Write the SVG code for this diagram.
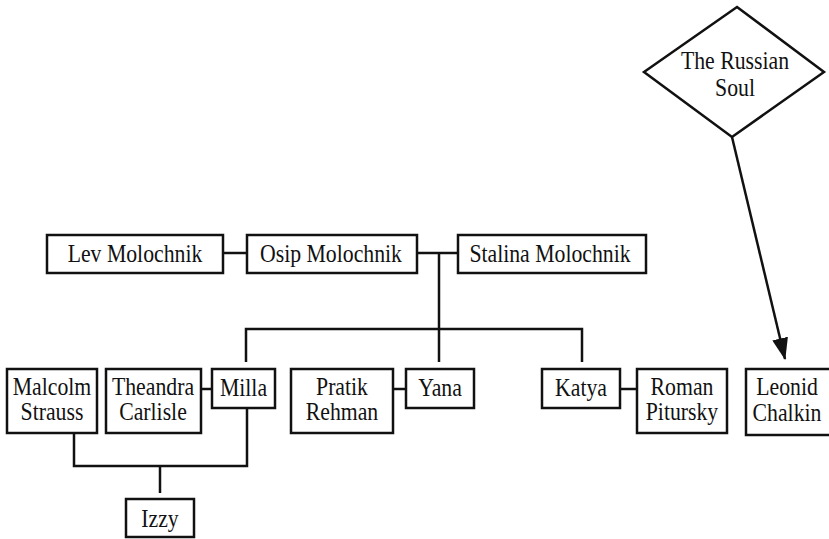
<svg xmlns="http://www.w3.org/2000/svg" width="829" height="539" viewBox="0 0 829 539">
<defs>
<style>
.box{fill:#fff;stroke:#111;stroke-width:2.5}
.ln{fill:none;stroke:#111;stroke-width:2.5}
text{font-family:"Liberation Serif","Times New Roman",serif;font-size:25px;fill:#111;text-anchor:middle}
</style>
<marker id="ah" viewBox="0 0 22 16" refX="21" refY="8" markerWidth="22" markerHeight="16" markerUnits="userSpaceOnUse" orient="auto">
<path d="M0,0 L22,8 L0,16 z" fill="#111"/>
</marker>
</defs>
<rect width="829" height="539" fill="#fff"/>
<g id="connectors">
<line class="ln" x1="223" y1="253" x2="247" y2="253"/>
<line class="ln" x1="417" y1="253" x2="458" y2="253"/>
<line class="ln" x1="439" y1="253" x2="439" y2="362"/>
<polyline class="ln" points="246,362 246,329 582,329 582,362"/>
<line class="ln" x1="201" y1="389" x2="212" y2="389"/>
<line class="ln" x1="393" y1="389" x2="406" y2="389"/>
<line class="ln" x1="620" y1="389" x2="637" y2="389"/>
<polyline class="ln" points="74,433 74,466 247,466 247,408"/>
<line class="ln" x1="160" y1="466" x2="160" y2="493"/>
<line class="ln" x1="732" y1="137" x2="785" y2="359" marker-end="url(#ah)"/>
</g>
<g id="russian-soul">
<polygon class="box" points="737,7 824,72 732,137 644,72"/>
<text transform="translate(735 69) scale(0.87 1)">The Russian</text>
<text transform="translate(735 96) scale(0.87 1)">Soul</text>
</g>
<g id="lev"><rect class="box" x="47" y="235" width="176" height="38"/><text transform="translate(135 262) scale(0.87 1)">Lev Molochnik</text></g>
<g id="osip"><rect class="box" x="247" y="235" width="170" height="38"/><text transform="translate(331 262) scale(0.87 1)">Osip Molochnik</text></g>
<g id="stalina"><rect class="box" x="458" y="235" width="188" height="38"/><text transform="translate(550 262) scale(0.87 1)">Stalina Molochnik</text></g>
<g id="malcolm"><rect class="box" x="7" y="369" width="90" height="64"/><text transform="translate(52 395) scale(0.87 1)">Malcolm</text><text transform="translate(52 420) scale(0.87 1)">Strauss</text></g>
<g id="theandra"><rect class="box" x="106" y="369" width="95" height="64"/><text transform="translate(153 395) scale(0.87 1)">Theandra</text><text transform="translate(153 420) scale(0.87 1)">Carlisle</text></g>
<g id="milla"><rect class="box" x="212" y="369" width="63" height="39"/><text transform="translate(243.5 396) scale(0.87 1)">Milla</text></g>
<g id="pratik"><rect class="box" x="291" y="369" width="102" height="64"/><text transform="translate(342 395) scale(0.87 1)">Pratik</text><text transform="translate(342 420) scale(0.87 1)">Rehman</text></g>
<g id="yana"><rect class="box" x="406" y="369" width="68" height="39"/><text transform="translate(440 396) scale(0.87 1)">Yana</text></g>
<g id="katya"><rect class="box" x="542" y="369" width="78" height="39"/><text transform="translate(581 396) scale(0.87 1)">Katya</text></g>
<g id="roman"><rect class="box" x="637" y="369" width="90" height="64"/><text transform="translate(682 395) scale(0.87 1)">Roman</text><text transform="translate(682 420) scale(0.87 1)">Pitursky</text></g>
<g id="leonid"><rect class="box" x="746" y="369" width="90" height="66"/><text transform="translate(787 395) scale(0.87 1)">Leonid</text><text transform="translate(787 421) scale(0.87 1)">Chalkin</text></g>
<g id="izzy"><rect class="box" x="126" y="499" width="68" height="38"/><text transform="translate(160 527) scale(0.87 1)">Izzy</text></g>
</svg>
